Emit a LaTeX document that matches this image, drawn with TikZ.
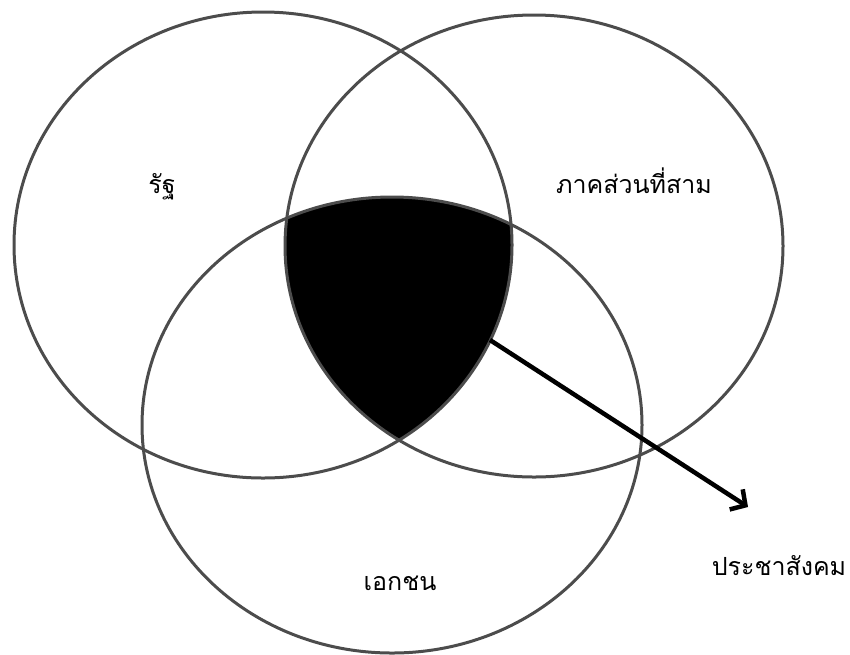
\documentclass[tikz,border=0pt]{standalone}
\usepackage{fontspec}
\newfontfamily\thaifont[Script=Thai]{Loma}
\usetikzlibrary{arrows.meta}
\begin{document}
\begin{tikzpicture}[x=1pt,y=-1pt,
  ring/.style={draw=black!70,line width=3pt},
  lbl/.style={font=\thaifont\fontsize{25}{30}\selectfont,anchor=base,inner sep=0pt},
  pointer/.style={line width=4.5pt,-{Straight Barb[length=11pt,width=24pt,line width=4.5pt]}}]
\useasboundingbox (0,0) rectangle (850,654);
\begin{scope}
  \clip (263,245) ellipse [x radius=249,y radius=233];
  \clip (534,246) ellipse [x radius=249,y radius=231];
  \fill[black] (392,425) ellipse [x radius=250,y radius=228];
\end{scope}
\draw[ring] (263,245) ellipse [x radius=249,y radius=233];
\draw[ring] (534,246) ellipse [x radius=249,y radius=231];
\draw[ring] (392,425) ellipse [x radius=250,y radius=228];
\node[lbl] (state) at (162,193) {รัฐ};
\node[lbl] (third) at (634,193) {ภาคส่วนที่สาม};
\node[lbl] (private) at (400,590) {เอกชน};
\node[lbl] (civil) at (779,575) {ประชาสังคม};
\coordinate (from) at (490,340);
\coordinate (to) at (748,507);
\draw[pointer] (from) -- (to);
\end{tikzpicture}
\end{document}
